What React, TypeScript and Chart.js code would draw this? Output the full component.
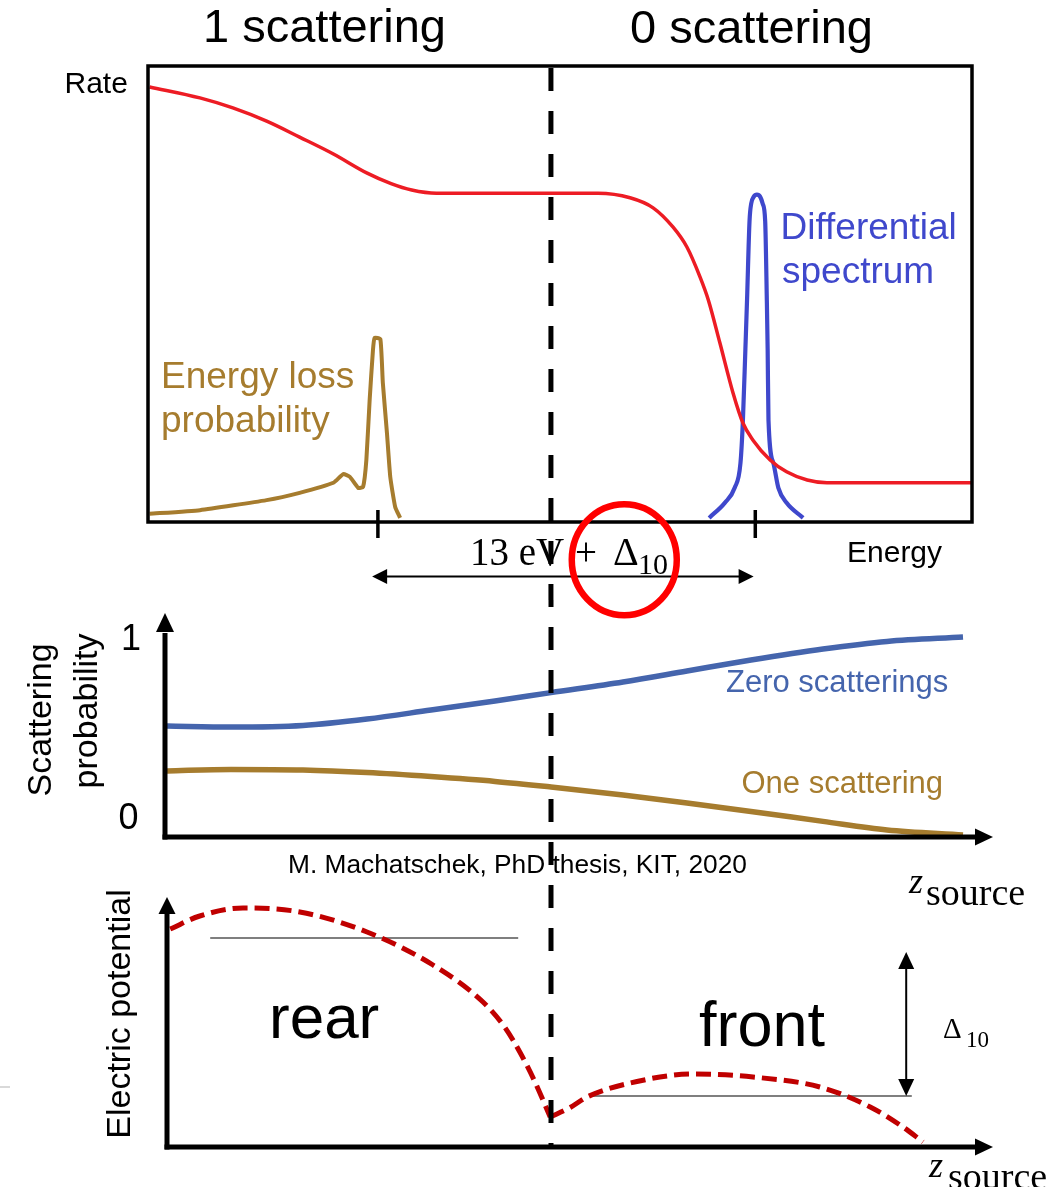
import React, { useEffect, useRef } from "react";
import { Chart, registerables } from "chart.js";

Chart.register(...registerables);

const W = 1047;
const H = 1187;

// ---------- Top panel: rate / spectra vs energy (arbitrary units) ----------
const rateEnergy = [0.2, 6.3, 10.3, 14.4, 18.4, 22.5, 26.6, 29.5, 32.0, 35.0, 54.6, 58.5, 61.3, 63.7, 65.4, 67.0, 68.0, 69.4, 71.0, 72.2, 73.4, 75.5, 77.5, 80.0, 82.4, 100];
const rateValues = [0.954, 0.93, 0.908, 0.879, 0.844, 0.807, 0.765, 0.742, 0.728, 0.721, 0.721, 0.711, 0.689, 0.647, 0.603, 0.537, 0.487, 0.393, 0.283, 0.217, 0.18, 0.136, 0.11, 0.092, 0.086, 0.086];

const lossEnergy = [0.2, 6.3, 14.4, 18.4, 22.5, 23.7, 24.5, 25.5, 26.1, 26.5, 26.9, 27.3, 27.5, 28.2, 28.5, 29.0, 29.4, 30.0, 30.6];
const lossValues = [0.018, 0.026, 0.048, 0.064, 0.086, 0.105, 0.099, 0.075, 0.077, 0.136, 0.268, 0.377, 0.404, 0.401, 0.305, 0.195, 0.099, 0.033, 0.009];

const specEnergy = [68.1, 70.0, 71.2, 71.9, 72.2, 72.5, 72.7, 73.0, 73.2, 73.5, 73.9, 74.3, 74.6, 74.9, 75.1, 75.2, 75.3, 75.9, 76.5, 77.5, 79.5];
const specValues = [0.009, 0.042, 0.075, 0.129, 0.224, 0.38, 0.487, 0.66, 0.698, 0.713, 0.718, 0.713, 0.698, 0.66, 0.487, 0.38, 0.224, 0.129, 0.075, 0.042, 0.009];

const energyTicks = [27.9, 73.7];
const energyArrow = [27.2, 73.5];
const dividerEnergy = 48.9;
const circleCenter = { x: 57.8, y: -0.083 };

// ---------- Middle panel: scattering probability vs z_source ----------
const zScatter = [0, 8, 17, 25, 33, 41, 48, 57, 65, 73, 82, 90, 99.5];
const zeroScatterings = [0.555, 0.55, 0.558, 0.59, 0.635, 0.68, 0.722, 0.775, 0.83, 0.885, 0.94, 0.978, 1.0];
const oneScattering = [0.33, 0.338, 0.335, 0.322, 0.302, 0.278, 0.25, 0.21, 0.17, 0.128, 0.078, 0.035, 0.01];
const probTickLabels = ["0", "1"];
const dividerZ = 48;

// ---------- Bottom panel: electric potential vs z_source ----------
const zRear = [0.4, 4.1, 9.5, 16.6, 25, 33.25, 39.5, 42.2, 44.1, 46.0, 47.9];
const potRear = [0.872, 0.924, 0.956, 0.94, 0.86, 0.728, 0.58, 0.48, 0.38, 0.26, 0.12];
const zFront = [47.9, 50.4, 52.5, 58.75, 65.75, 73.25, 81.6, 87.9, 92, 94.5];
const potFront = [0.12, 0.158, 0.2, 0.262, 0.292, 0.28, 0.24, 0.16, 0.08, 0.02];
const rearLevelZ = [5.4, 43.9];
const rearLevel = 0.836;
const frontLevelZ = [53.1, 93.1];
const frontLevel = 0.204;
const deltaArrowZ = 92.4;
const deltaArrowTop = 0.78;

// ---------- styling ----------
const SANS = '"Liberation Sans", Arial, sans-serif';
const SERIF = '"Liberation Serif", "Times New Roman", serif';
const RED = "#ed1c24";
const BLUE = "#3f48cc";
const BROWN = "#a67c2e";
const MBLUE = "#4565ad";
const DARKRED = "#c00000";

const DIV_TOP = 68;
const DIV_BOTTOM = 1145;

const zip = (xs: number[], ys: number[]) => xs.map((x, i) => ({ x, y: ys[i] }));

function arrowHead(ctx: CanvasRenderingContext2D, tx: number, ty: number, dx: number, dy: number, len: number, half: number) {
  const bx = tx - dx * len;
  const by = ty - dy * len;
  const nx = -dy;
  const ny = dx;
  ctx.beginPath();
  ctx.moveTo(tx, ty);
  ctx.lineTo(bx + nx * half, by + ny * half);
  ctx.lineTo(bx - nx * half, by - ny * half);
  ctx.closePath();
  ctx.fill();
}

function drawDivider(chart: any, xValue: number, canvasTop: number, bandTop: number, bandBottom: number) {
  const ctx: CanvasRenderingContext2D = chart.ctx;
  const px = chart.scales.x.getPixelForValue(xValue);
  const g0 = Math.max(bandTop, DIV_TOP);
  const g1 = Math.min(bandBottom, DIV_BOTTOM);
  if (g1 <= g0) return;
  ctx.save();
  ctx.strokeStyle = "#000";
  ctx.lineWidth = 5;
  ctx.setLineDash([23, 20]);
  ctx.lineDashOffset = g0 - DIV_TOP;
  ctx.beginPath();
  ctx.moveTo(px, g0 - canvasTop);
  ctx.lineTo(px, g1 - canvasTop);
  ctx.stroke();
  ctx.restore();
}

function baseOptions(padding: any, yMin: number, yMax: number) {
  return {
    responsive: false,
    maintainAspectRatio: false,
    animation: false as const,
    devicePixelRatio: 1,
    events: [],
    layout: { padding },
    elements: { point: { radius: 0, hoverRadius: 0 } },
    plugins: { legend: { display: false }, tooltip: { enabled: false }, title: { display: false } },
    scales: {
      x: { type: "linear" as const, min: 0, max: 100, display: false },
      y: { type: "linear" as const, min: yMin, max: yMax, display: false },
    },
  };
}

const TOP_CANVAS = { top: 0, height: 630 };
const MID_CANVAS = { top: 590, height: 290 };
const BOT_CANVAS = { top: 880, height: 307 };

const topDecor = {
  id: "topDecor",
  afterDatasetsDraw(chart: any) {
    const ctx: CanvasRenderingContext2D = chart.ctx;
    const a = chart.chartArea;
    const x = chart.scales.x;
    const y = chart.scales.y;
    ctx.save();
    ctx.strokeStyle = "#000";
    ctx.fillStyle = "#000";
    ctx.lineWidth = 3.5;
    ctx.strokeRect(a.left, a.top, a.right - a.left, a.bottom - a.top);
    energyTicks.forEach((t) => {
      const px = x.getPixelForValue(t);
      ctx.beginPath();
      ctx.moveTo(px, a.bottom - 12);
      ctx.lineTo(px, a.bottom + 16);
      ctx.stroke();
    });
    const ay = a.bottom + 54.5;
    const x0 = x.getPixelForValue(energyArrow[0]);
    const x1 = x.getPixelForValue(energyArrow[1]);
    ctx.lineWidth = 2;
    ctx.beginPath();
    ctx.moveTo(x0 + 8, ay);
    ctx.lineTo(x1 - 8, ay);
    ctx.stroke();
    arrowHead(ctx, x0, ay, -1, 0, 15, 7.5);
    arrowHead(ctx, x1, ay, 1, 0, 15, 7.5);
    ctx.restore();
    drawDivider(chart, dividerEnergy, TOP_CANVAS.top, 0, 600);
    ctx.save();
    ctx.strokeStyle = "#ff0000";
    ctx.lineWidth = 6.5;
    ctx.beginPath();
    ctx.ellipse(x.getPixelForValue(circleCenter.x), y.getPixelForValue(circleCenter.y), 52.5, 55.5, 0, 0, Math.PI * 2);
    ctx.stroke();
    ctx.restore();
  },
};

const midDecor = {
  id: "midDecor",
  afterDatasetsDraw(chart: any) {
    const ctx: CanvasRenderingContext2D = chart.ctx;
    const a = chart.chartArea;
    const ax = a.left - 2;
    const ay = a.bottom;
    ctx.save();
    ctx.strokeStyle = "#000";
    ctx.fillStyle = "#000";
    ctx.lineWidth = 5;
    ctx.beginPath();
    ctx.moveTo(ax, ay + 2.5);
    ctx.lineTo(ax, a.top - 4);
    ctx.stroke();
    arrowHead(ctx, ax, a.top - 24, 0, -1, 19, 9);
    ctx.beginPath();
    ctx.moveTo(ax - 2.5, ay);
    ctx.lineTo(a.right + 10, ay);
    ctx.stroke();
    arrowHead(ctx, a.right + 26, ay, 1, 0, 18, 8.5);
    ctx.restore();
    drawDivider(chart, dividerZ, MID_CANVAS.top, 600, 880);
  },
};

const botDecor = {
  id: "botDecor",
  afterDatasetsDraw(chart: any) {
    const ctx: CanvasRenderingContext2D = chart.ctx;
    const a = chart.chartArea;
    const x = chart.scales.x;
    const y = chart.scales.y;
    const ax = a.left;
    const ay = a.bottom;
    ctx.save();
    ctx.strokeStyle = "#000";
    ctx.fillStyle = "#000";
    ctx.lineWidth = 5;
    ctx.beginPath();
    ctx.moveTo(ax, ay + 2.5);
    ctx.lineTo(ax, a.top + 14);
    ctx.stroke();
    arrowHead(ctx, ax, a.top, 0, -1, 17, 8.5);
    ctx.beginPath();
    ctx.moveTo(ax - 2.5, ay);
    ctx.lineTo(a.right + 10, ay);
    ctx.stroke();
    arrowHead(ctx, a.right + 26, ay, 1, 0, 18, 8.5);
    const vx = x.getPixelForValue(deltaArrowZ);
    const vt = y.getPixelForValue(deltaArrowTop);
    const vb = y.getPixelForValue(frontLevel);
    ctx.lineWidth = 2;
    ctx.beginPath();
    ctx.moveTo(vx, vt + 8);
    ctx.lineTo(vx, vb - 8);
    ctx.stroke();
    arrowHead(ctx, vx, vt, 0, -1, 17, 8);
    arrowHead(ctx, vx, vb, 0, 1, 17, 8);
    ctx.strokeStyle = "#d9d9d9";
    ctx.lineWidth = 2;
    ctx.beginPath();
    ctx.moveTo(0, 207);
    ctx.lineTo(10, 207);
    ctx.stroke();
    ctx.restore();
    drawDivider(chart, dividerZ, BOT_CANVAS.top, 880, 1187);
  },
};

const lineDs = (label: string, data: any[], color: string, width: number, extra: any = {}) => ({
  label,
  data,
  showLine: true,
  borderColor: color,
  backgroundColor: color,
  borderWidth: width,
  pointRadius: 0,
  fill: false,
  clip: false,
  ...extra,
});

function topConfig(): any {
  return {
    type: "scatter",
    data: {
      datasets: [
        lineDs("Rate", zip(rateEnergy, rateValues), RED, 3.5, { cubicInterpolationMode: "monotone" }),
        lineDs("Differential spectrum", zip(specEnergy, specValues), BLUE, 4.2, { cubicInterpolationMode: "monotone" }),
        lineDs("Energy loss probability", zip(lossEnergy, lossValues), BROWN, 4, { tension: 0.15 }),
      ],
    },
    options: baseOptions({ left: 148, right: 75, top: 66, bottom: 108 }, 0, 1),
    plugins: [topDecor],
  };
}

function midConfig(): any {
  return {
    type: "scatter",
    data: {
      datasets: [
        lineDs("Zero scatterings", zip(zScatter, zeroScatterings), MBLUE, 5.5, { cubicInterpolationMode: "monotone" }),
        lineDs("One scattering", zip(zScatter, oneScattering), BROWN, 5.5, { cubicInterpolationMode: "monotone" }),
      ],
    },
    options: baseOptions({ left: 167, right: 80, top: 47, bottom: 43 }, 0, 1),
    plugins: [midDecor],
  };
}

function botConfig(): any {
  return {
    type: "scatter",
    data: {
      datasets: [
        lineDs("rear potential", zip(zRear, potRear), DARKRED, 5, { cubicInterpolationMode: "monotone", borderDash: [15, 7] }),
        lineDs("front potential", zip(zFront, potFront), DARKRED, 5, { cubicInterpolationMode: "monotone", borderDash: [15, 7] }),
        lineDs("rear level", zip(rearLevelZ, [rearLevel, rearLevel]), "#000", 1.2),
        lineDs("front level", zip(frontLevelZ, [frontLevel, frontLevel]), "#000", 1.2),
      ],
    },
    options: baseOptions({ left: 167, right: 80, top: 17, bottom: 40 }, 0, 1),
    plugins: [botDecor],
  };
}

function ChartCanvas({ top, height, config }: { top: number; height: number; config: () => any }) {
  const ref = useRef<HTMLCanvasElement>(null);
  useEffect(() => {
    const chart = new Chart(ref.current as HTMLCanvasElement, config());
    return () => chart.destroy();
  }, []);
  return (
    <canvas
      ref={ref}
      width={W}
      height={height}
      style={{ position: "absolute", left: 0, top, width: W, height }}
    />
  );
}

function Txt(props: { x: number; base: number; fs: number; color?: string; serif?: boolean; italic?: boolean; children: any }) {
  const { x, base, fs, color = "#000", serif = false, italic = false, children } = props;
  const asc = serif ? 0.8375 : 0.8465;
  return (
    <div
      style={{
        position: "absolute",
        left: x,
        top: base - asc * fs,
        fontFamily: serif ? SERIF : SANS,
        fontSize: fs,
        lineHeight: 1,
        color,
        whiteSpace: "nowrap",
        fontStyle: italic ? "italic" : "normal",
      }}
    >
      {children}
    </div>
  );
}

function RotTxt({ cx, cy, fs, children }: { cx: number; cy: number; fs: number; children: any }) {
  return (
    <div
      style={{
        position: "absolute",
        left: cx,
        top: cy,
        fontFamily: SANS,
        fontSize: fs,
        lineHeight: 1,
        whiteSpace: "nowrap",
        transform: "translate(-50%, -50%) rotate(-90deg)",
        color: "#000",
      }}
    >
      {children}
    </div>
  );
}

export default function App() {
  return (
    <div
      style={{
        position: "absolute",
        left: 0,
        top: 0,
        width: W,
        height: H,
        overflow: "hidden",
        background: "#fff",
      }}
    >
      <ChartCanvas top={TOP_CANVAS.top} height={TOP_CANVAS.height} config={topConfig} />
      <ChartCanvas top={MID_CANVAS.top} height={MID_CANVAS.height} config={midConfig} />
      <ChartCanvas top={BOT_CANVAS.top} height={BOT_CANVAS.height} config={botConfig} />

      {/* top panel texts */}
      <Txt x={203} base={42} fs={47}>1 scattering</Txt>
      <Txt x={630} base={43} fs={47}>0 scattering</Txt>
      <Txt x={64.5} base={93} fs={30}>Rate</Txt>
      <Txt x={161} base={388} fs={37} color={BROWN}>Energy loss</Txt>
      <Txt x={161} base={432} fs={37} color={BROWN}>probability</Txt>
      <Txt x={780.5} base={239} fs={37} color={BLUE}>Differential</Txt>
      <Txt x={782} base={283} fs={37} color={BLUE}>spectrum</Txt>
      <Txt x={470} base={565} fs={39} serif>13 eV</Txt>
      <Txt x={575} base={565} fs={39} serif>+</Txt>
      <Txt x={613} base={565} fs={40} serif>Δ</Txt>
      <Txt x={638} base={574} fs={30} serif>10</Txt>
      <Txt x={847} base={562} fs={30}>Energy</Txt>

      {/* middle panel texts */}
      <Txt x={121} base={650} fs={36}>{probTickLabels[1]}</Txt>
      <Txt x={118.5} base={829} fs={36}>{probTickLabels[0]}</Txt>
      <RotTxt cx={39} cy={720} fs={34}>Scattering</RotTxt>
      <RotTxt cx={85} cy={711} fs={34}>probability</RotTxt>
      <Txt x={726} base={692} fs={31} color={MBLUE}>Zero scatterings</Txt>
      <Txt x={741.5} base={793} fs={31} color={BROWN}>One scattering</Txt>
      <Txt x={288} base={873} fs={26.3}>M. Machatschek, PhD thesis, KIT, 2020</Txt>
      <Txt x={909} base={893} fs={36} serif italic>z</Txt>
      <Txt x={926} base={905} fs={38} serif>source</Txt>

      {/* bottom panel texts */}
      <RotTxt cx={118} cy={1014} fs={34}>Electric potential</RotTxt>
      <Txt x={269} base={1038} fs={62}>rear</Txt>
      <Txt x={699} base={1046} fs={63}>front</Txt>
      <Txt x={943} base={1038} fs={29} serif>Δ</Txt>
      <Txt x={966} base={1047} fs={23} serif>10</Txt>
      <Txt x={929} base={1177} fs={36} serif italic>z</Txt>
      <Txt x={948} base={1189} fs={38} serif>source</Txt>
    </div>
  );
}
